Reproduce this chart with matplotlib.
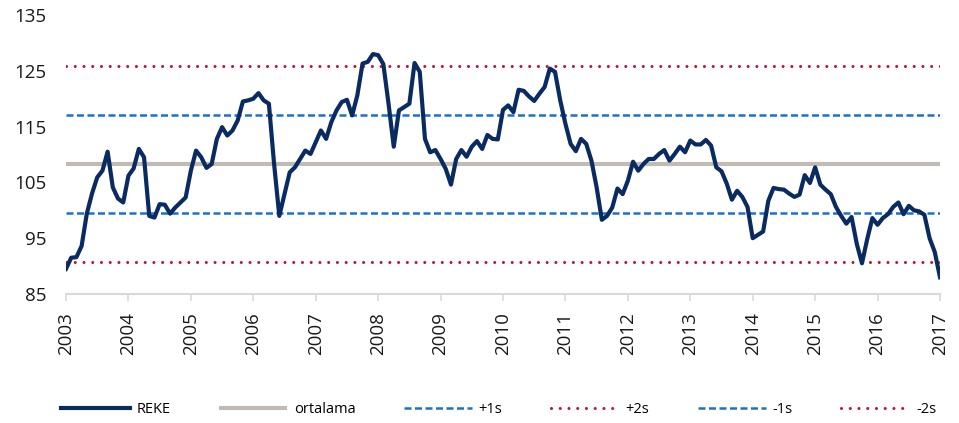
import matplotlib
matplotlib.use("Agg")
import matplotlib.pyplot as plt
import numpy as np

# Monthly REKE index, Jan 2003 .. Jan 2017
reke = [
    89.5, 91.5, 91.6, 93.6, 99.4, 103.0, 105.9, 107.1, 110.5, 104.1, 102.1, 101.4,   # 2003
    106.2, 107.5, 111.0, 109.5, 99.0, 98.7, 101.1, 101.0, 99.4, 100.5, 101.4, 102.3,  # 2004
    107.1, 110.7, 109.5, 107.6, 108.3, 112.8, 114.9, 113.4, 114.3, 116.1, 119.5, 119.7,  # 2005
    120.0, 121.0, 119.7, 119.1, 108.3, 99.0, 102.9, 106.8, 107.7, 109.2, 110.7, 110.1,  # 2006
    112.2, 114.3, 112.8, 115.8, 117.9, 119.4, 119.8, 117.0, 120.6, 126.3, 126.6, 128.0,  # 2007
    127.8, 126.2, 119.1, 111.4, 117.9, 118.5, 119.1, 126.4, 124.8, 112.8, 110.4, 110.8,  # 2008
    109.2, 107.4, 104.6, 109.2, 110.8, 109.6, 111.4, 112.4, 111.0, 113.5, 112.8, 112.7,  # 2009
    118.0, 118.8, 117.6, 121.6, 121.4, 120.4, 119.6, 120.9, 122.1, 125.4, 124.8, 119.7,  # 2010
    115.5, 111.9, 110.6, 112.8, 111.9, 108.9, 104.1, 98.3, 99.0, 100.5, 103.9, 102.9,  # 2011
    105.3, 108.7, 107.1, 108.3, 109.2, 109.2, 110.1, 110.8, 108.9, 110.1, 111.4, 110.4,  # 2012
    112.5, 111.8, 111.8, 112.6, 111.6, 107.7, 107.0, 104.8, 101.9, 103.5, 102.4, 100.6,  # 2013
    95.0, 95.6, 96.2, 101.7, 104.0, 103.8, 103.7, 103.0, 102.4, 102.8, 106.3, 104.9,  # 2014
    107.7, 104.6, 103.7, 102.9, 100.6, 99.0, 97.6, 98.8, 94.0, 90.5, 94.8, 98.6,  # 2015
    97.4, 98.6, 99.3, 100.6, 101.4, 99.3, 100.8, 100.0, 99.8, 99.2, 95.0, 92.5,  # 2016
    88.0,  # 2017
]
years = [str(y) for y in range(2003, 2018)]
mean_val = 108.3
plus1 = 117.1
plus2 = 125.9
minus1 = 99.6
minus2 = 90.8
y_ticks = [85, 95, 105, 115, 125, 135]

navy = "#0a2b62"
grey = "#c0bcb5"
blue = "#1a72cc"
red = "#c8102e"

plt.rcParams['font.family'] = ['Open Sans', 'DejaVu Sans']

fig = plt.figure(figsize=(9.59, 4.23), dpi=100)
ax = fig.add_axes([66/959, 1-294/423, (940-66)/959, (294-15)/423])

x = np.arange(len(reke))
n = len(reke) - 1

lm, = ax.plot([0, n], [mean_val, mean_val], color=grey, lw=3.0, solid_capstyle='butt', label='ortalama', zorder=2)
l1, = ax.plot([0, n], [plus1, plus1], color=blue, lw=1.8, label='+1s', zorder=2)
l1.set_dashes((2.8, 1.4))
l2, = ax.plot([0, n], [plus2, plus2], color=red, lw=2.2, label='+2s', zorder=2,
              dash_capstyle='round')
l2.set_dashes((0.01, 2.85))
l3, = ax.plot([0, n], [minus1, minus1], color=blue, lw=1.8, label='-1s', zorder=2)
l3.set_dashes((2.8, 1.4))
l4, = ax.plot([0, n], [minus2, minus2], color=red, lw=2.2, label='-2s', zorder=2,
              dash_capstyle='round')
l4.set_dashes((0.01, 2.85))
lr, = ax.plot(x, reke, color=navy, lw=3.0, label='REKE', zorder=3, solid_joinstyle='round')

ax.set_xlim(0, n)
ax.set_ylim(85, 135)
ax.set_yticks(y_ticks)
ax.set_yticklabels([str(v) for v in y_ticks])
ax.set_xticks(np.arange(0, len(years)) * 12)
ax.set_xticklabels(years, rotation=90)

for s in ['top', 'right', 'left']:
    ax.spines[s].set_visible(False)
ax.spines['bottom'].set_color('#d9d9d9')
ax.spines['bottom'].set_linewidth(1.5)
ax.tick_params(axis='y', length=0, pad=14, labelsize=13.5, labelcolor='#1a1a1a')
ax.tick_params(axis='x', length=5, width=1.2, color='#d9d9d9', pad=8, labelsize=13.5, labelcolor='#1a1a1a')

handles = [lr, lm, l1, l2, l3, l4]
labels = ['REKE', 'ortalama', '+1s', '+2s', '-1s', '-2s']
fig.legend(handles, labels, loc='center', bbox_to_anchor=(0.52, 0.031), ncol=6,
           frameon=False, fontsize=10.5, handlelength=4.7, handletextpad=0.45,
           columnspacing=3.3, borderaxespad=0)

fig.savefig('out.png', dpi=100)
